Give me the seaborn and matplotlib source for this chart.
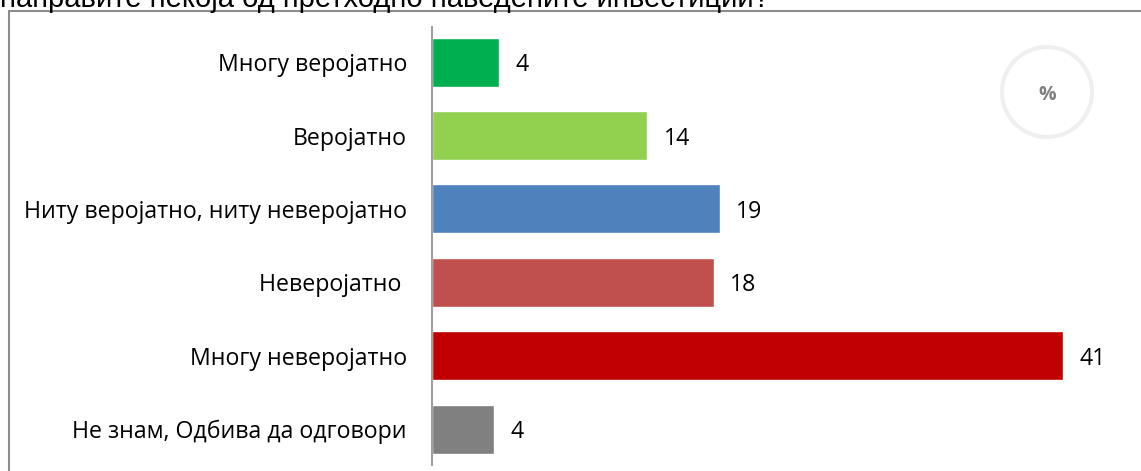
"""
Horizontal bar chart: likelihood of making one of the listed investments (%).
"""

import matplotlib
matplotlib.use("Agg")
import matplotlib.pyplot as plt
from matplotlib.lines import Line2D
from matplotlib.patches import Circle
import seaborn as sns
import pandas as pd

categories = [
    "Многу веројатно",
    "Веројатно",
    "Ниту веројатно, ниту неверојатно",
    "Неверојатно ",
    "Многу неверојатно",
    "Не знам, Одбива да одговори",
]
values = [4.35, 14.0, 18.7, 18.3, 41.0, 4.03]
value_labels = ["4", "14", "19", "18", "41", "4"]
colors = ["#00B050", "#92D050", "#4F81BD", "#C0504D", "#C00000", "#808080"]
title_text = "направите некоја од претходно наведените инвестиции?"

W, H, DPI = 1141, 471, 100
FS = 16.7

sns.set_style("white")
plt.rcParams["font.family"] = ["Open Sans", "DejaVu Sans"]

df = pd.DataFrame({"category": categories, "value": values})

fig = plt.figure(figsize=(W / DPI, H / DPI), dpi=DPI)
# axes placed in pixel terms: left edge at the axis line
ax = fig.add_axes([432 / W, (H - 465) / H, (W - 432) / W, (465 - 27) / H])

sns.barplot(data=df, x="value", y="category", hue="category", palette=colors,
            legend=False, width=0.667, saturation=1, ax=ax)

for cont, lab in zip(ax.containers, value_labels):
    txts = ax.bar_label(cont, labels=[lab], padding=12, fontsize=FS, color="#000000")
    for t in txts:
        t.set_va("center_baseline")

ax.set_xlim(0, (W - 432) / 15.39)
ax.set_ylim(5.49, -0.48)
ax.set_xlabel("")
ax.set_ylabel("")
ax.set_xticks([])
ax.tick_params(axis="y", length=0, pad=18, labelsize=FS, labelcolor="#000000")
for side in ["top", "right", "bottom"]:
    ax.spines[side].set_visible(False)
ax.spines["left"].set_color("#A0A0A0")
ax.spines["left"].set_linewidth(1.5)

# outer frame (left + top only visible)
fig.add_artist(Line2D([9 / W, 9 / W], [0, 1 - 11 / H], transform=fig.transFigure,
                      color="#8C8C8C", lw=1.5))
fig.add_artist(Line2D([9 / W, 1], [1 - 11 / H, 1 - 11 / H], transform=fig.transFigure,
                      color="#8C8C8C", lw=1.5))

# clipped question text at top
fig.text(0.0, 1 - 7 / H, title_text, fontsize=21, family=["Liberation Sans", "DejaVu Sans"],
         va="baseline", ha="left", color="#000000")

# percent badge
fig.add_artist(Circle((1047 / DPI, (H - 92) / DPI), 0.45, transform=fig.dpi_scale_trans,
                      fill=False, ec="#EFEFEF", lw=3))
fig.text(1047 / W, 1 - 93 / H, "%", fontsize=14, fontweight="bold", color="#7F7F7F",
         ha="center", va="center_baseline")

fig.savefig("out.png", dpi=DPI)
